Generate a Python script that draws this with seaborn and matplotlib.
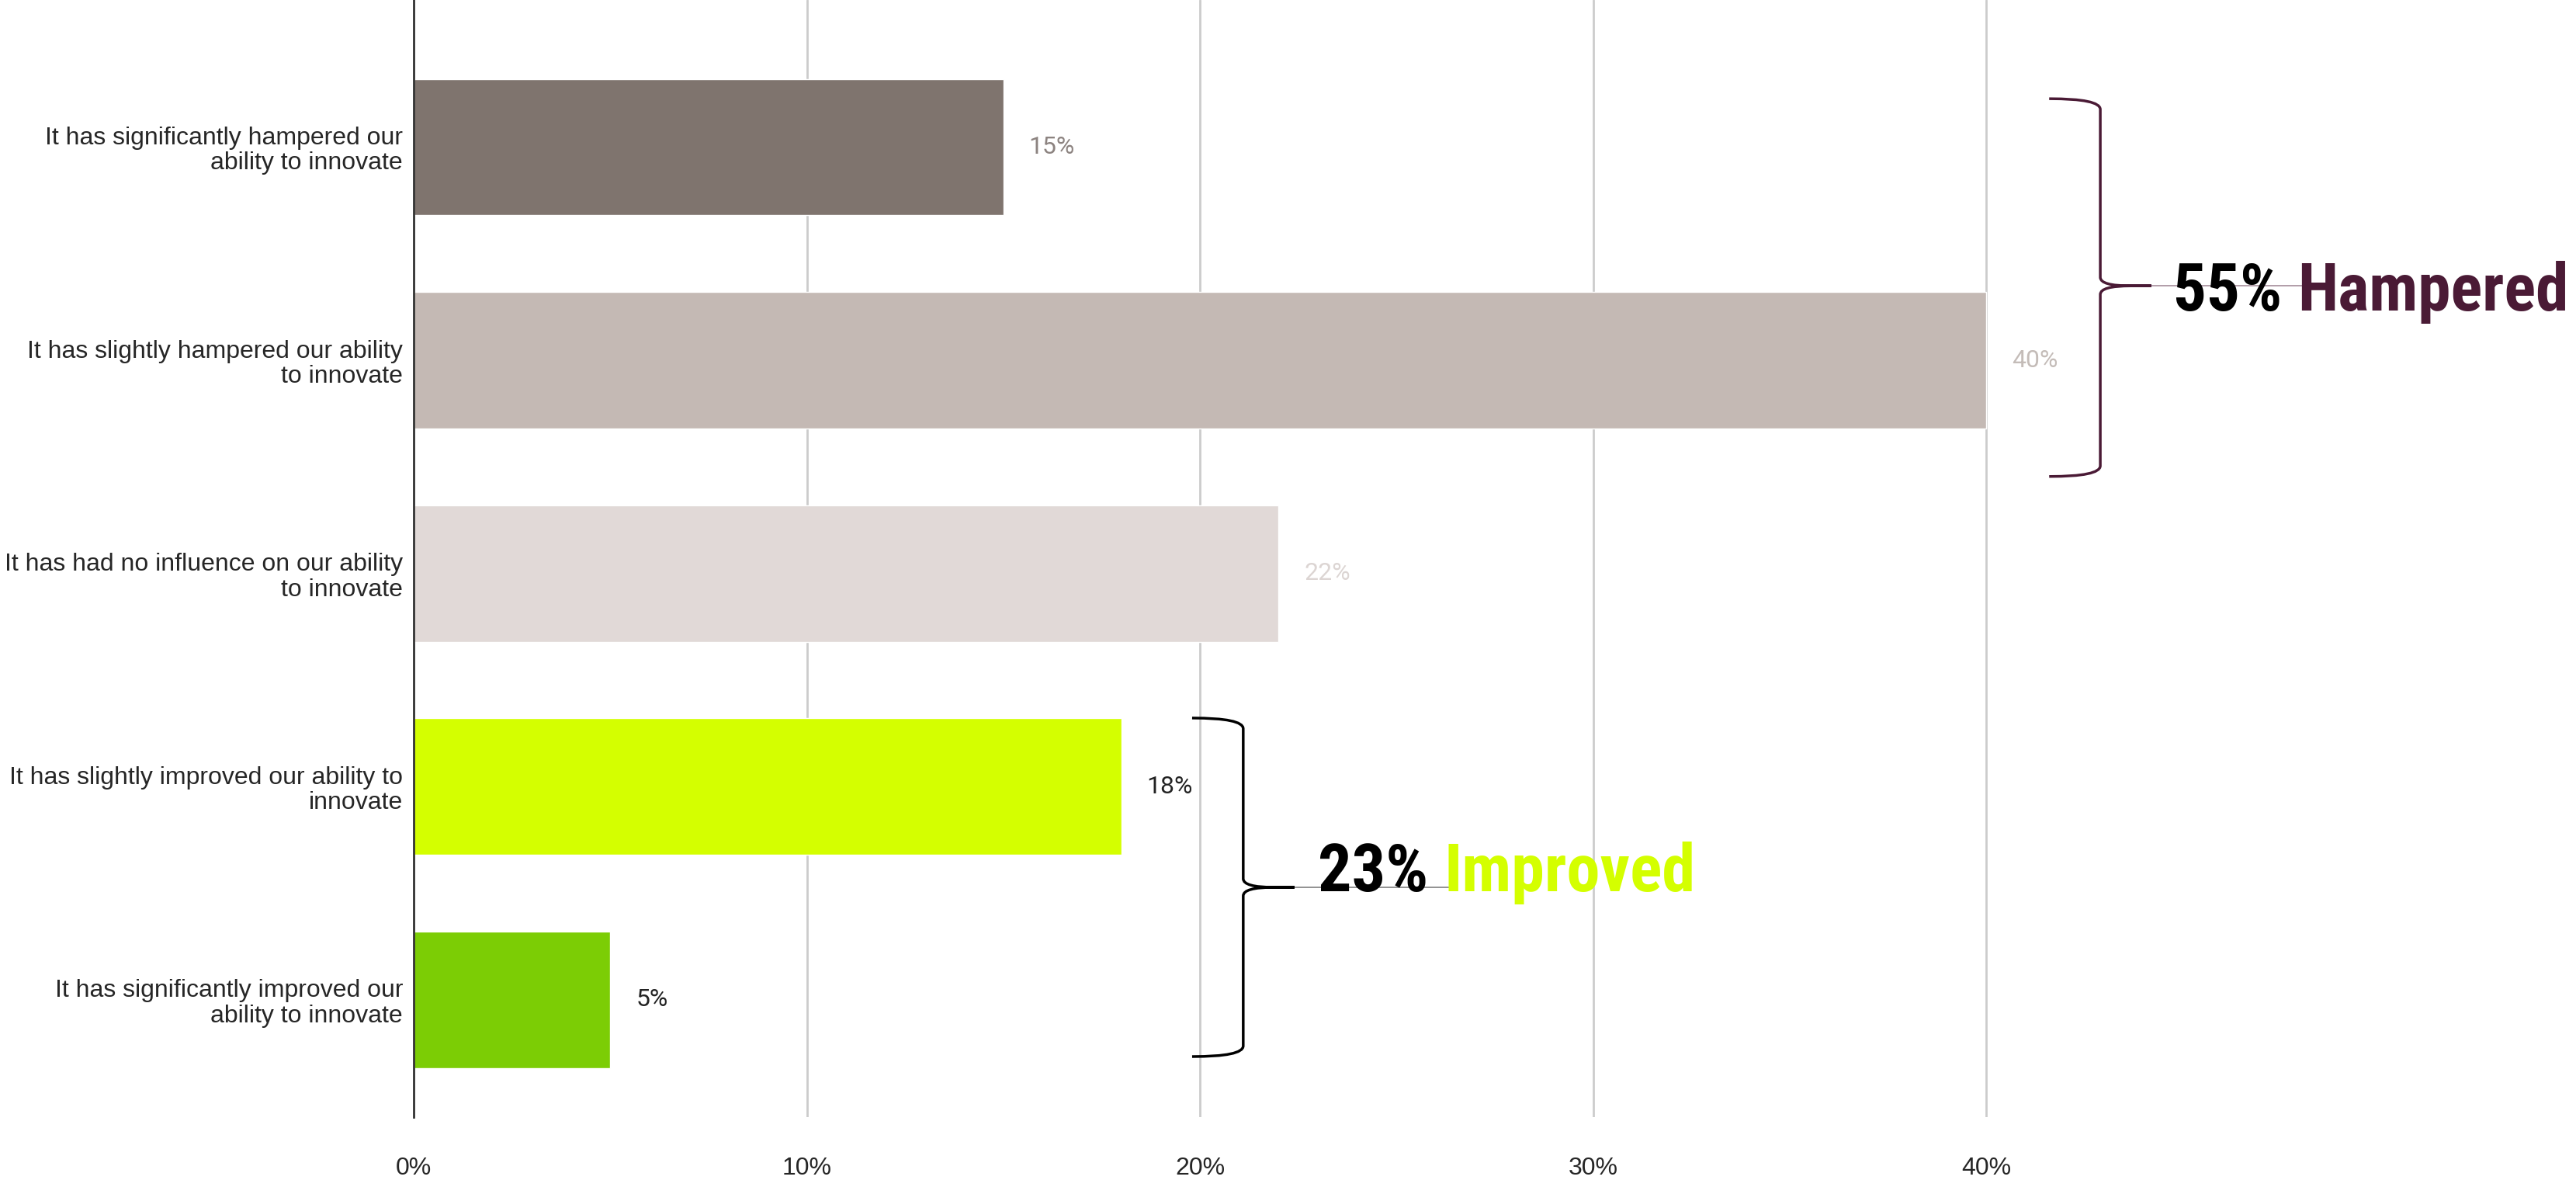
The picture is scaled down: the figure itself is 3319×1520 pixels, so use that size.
import matplotlib
matplotlib.use("Agg")
import matplotlib.pyplot as plt
import seaborn as sns
import pandas as pd
from matplotlib.path import Path
from matplotlib.patches import PathPatch
from matplotlib import font_manager as fm

categories = [
    "It has significantly hampered our\nability to innovate",
    "It has slightly hampered our ability\nto innovate",
    "It has had no influence on our ability\nto innovate",
    "It has slightly improved our ability to\ninnovate",
    "It has significantly improved our\nability to innovate",
]
values = [15, 40, 22, 18, 5]
bar_colors = ["#7f746e", "#c4b9b4", "#e1d9d7", "#d4ff00", "#7ccd05"]
label_colors = ["#8c8380", "#c4bcb8", "#dcd5d3", "#222222", "#222222"]
x_ticks = [0, 10, 20, 30, 40]
x_tick_labels = ["0%", "10%", "20%", "30%", "40%"]
group_pct = ["55%", "23%"]
group_names = ["Hampered", "Improved"]
group_colors = ["#4a1a35", "#d4ff00"]
bracket_colors = ["#4a1a35", "#000000"]

sns.set_theme(style="white")
plt.rcParams["font.family"] = ["Liberation Sans", "DejaVu Sans"]

# find a condensed bold font for the big annotations, if one is installed
narrow_path = None
prefs = ["Liberation Sans Narrow", "Arial Narrow", "Roboto Condensed",
         "Open Sans Condensed", "DejaVu Sans"]
cands = []
for f in fm.fontManager.ttflist:
    w = f.weight if isinstance(f.weight, int) else {"bold": 700}.get(f.weight, 400)
    is_narrow = ("Narrow" in f.name or "Condensed" in f.name
                 or f.stretch in ("condensed", "semi-condensed")
                 or "Condensed" in f.fname or "Narrow" in f.fname)
    if is_narrow and w >= 700 and "Oblique" not in f.fname and "Italic" not in f.fname:
        rank = next((i for i, p in enumerate(prefs) if f.name.startswith(p)), len(prefs))
        cands.append((rank, f.fname))
if cands:
    cands.sort()
    narrow_path = cands[0][1]


def big_fp(size):
    if narrow_path:
        return fm.FontProperties(fname=narrow_path, size=size)
    return fm.FontProperties(family="Liberation Sans", weight="bold", size=size)


df = pd.DataFrame({"cat": categories, "val": values})

fig = plt.figure(figsize=(33.19, 15.20), dpi=100)
ax = fig.add_axes([533 / 3319, 81 / 1520, 1 - 533 / 3319, 1439 / 1520])

sns.barplot(data=df, x="val", y="cat", hue="cat", palette=bar_colors,
            legend=False, width=0.64, orient="h", ax=ax, saturation=1)

ax.set_xlim(0, 55)
ax.set_ylim(4.55, -0.69)
ax.set_xticks(x_ticks)
ax.set_xticklabels(x_tick_labels, fontsize=23)
ax.tick_params(axis="x", length=0, pad=37)
ax.tick_params(axis="y", length=0, pad=10, labelsize=23)
for lbl in ax.get_yticklabels():
    lbl.set_ha("right")
    lbl.set_linespacing(1.1)
ax.set_xlabel("")
ax.set_ylabel("")
ax.grid(axis="x", color="#cccccc", lw=2)
ax.grid(axis="y", visible=False)
ax.set_axisbelow(True)
for s in ["top", "right", "bottom"]:
    ax.spines[s].set_visible(False)
ax.spines["left"].set_color("#333333")
ax.spines["left"].set_linewidth(2)

for i, (v, c) in enumerate(zip(values, label_colors)):
    ax.text(v + 0.65, i, f"{v}%", va="center", ha="left", color=c,
            fontsize=23, family=["Roboto", "DejaVu Sans"])


def bracket(xl, xv, xt, top, mid, bot, color):
    d = 0.05
    dm = 0.04
    xc = xv + 0.78
    verts = [
        (xl, top), (xv, top), (xv, top + d),
        (xv, mid - dm), (xv, mid), (xc, mid),
        (xt, mid),
        (xc, mid),
        (xv, mid), (xv, mid + dm),
        (xv, bot - d), (xv, bot), (xl, bot),
    ]
    codes = [
        Path.MOVETO, Path.CURVE3, Path.CURVE3,
        Path.LINETO, Path.CURVE3, Path.CURVE3,
        Path.LINETO,
        Path.LINETO,
        Path.CURVE3, Path.CURVE3,
        Path.LINETO, Path.CURVE3, Path.CURVE3,
    ]
    ax.add_patch(PathPatch(Path(verts, codes), fill=False, edgecolor=color,
                           lw=2.5, clip_on=False, zorder=5))
    ax.plot([xt, xt + 4.0], [mid, mid], color=color, lw=1.2, alpha=0.5,
            clip_on=False, zorder=4)


groups = [
    # xl, xv, xt, top, mid, bot, text_x, text_end_x, baseline
    (41.6, 42.9, 44.2, -0.227, 0.651, 1.545, 44.75, 54.8, 0.767),
    (19.8, 21.1, 22.4, 2.678, 3.472, 4.266, 23.0, 32.56, 3.49),
]
renderer = fig.canvas.get_renderer()
for (xl, xv, xt, top, mid, bot, tx, tend, base), pct, name, gc, bc in zip(
        groups, group_pct, group_names, group_colors, bracket_colors):
    bracket(xl, xv, xt, top, mid, bot, bc)
    size = 62
    for _ in range(3):
        t1 = ax.text(tx, base, pct + " ", ha="left", va="baseline", color="black",
                     fontproperties=big_fp(size), zorder=6)
        t2 = ax.annotate(name, xy=(1, 0), xycoords=t1, ha="left", va="bottom",
                         color=gc, fontproperties=big_fp(size), zorder=6,
                         annotation_clip=False)
        fig.canvas.draw()
        x0 = t1.get_window_extent(renderer).x0
        x1 = t2.get_window_extent(renderer).x1
        target = ax.transData.transform((tend, 0))[0] - ax.transData.transform((tx, 0))[0]
        new_size = min(66, size * target / (x1 - x0))
        if abs(new_size - size) < 0.3:
            break
        t1.remove()
        t2.remove()
        size = new_size

fig.savefig("out.png", dpi=100, facecolor="white")
